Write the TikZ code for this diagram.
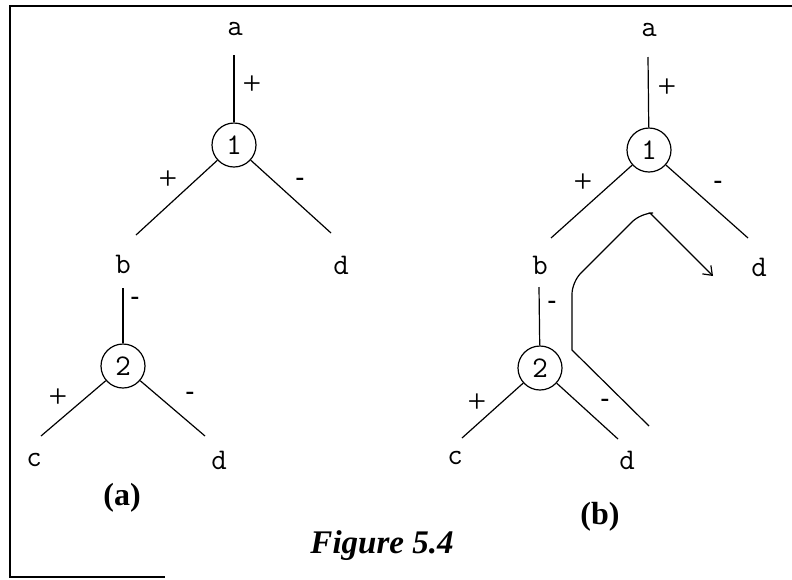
\documentclass[tikz,border=0pt]{standalone}
\usepackage{fontspec}
\setmainfont{Liberation Serif}
\usetikzlibrary{arrows.meta}

\tikzset{
    lbl/.style={inner sep=0pt, font=\ttfamily\fontsize{30}{30}\selectfont},
    pls/.style={inner sep=0pt, font=\fontsize{33}{33}\selectfont},
    mns/.style={inner sep=0pt, font=\bfseries\fontsize{26}{26}\selectfont},
    num/.style={circle, draw, line width=1.2pt, minimum size=44pt, inner sep=0pt,
                font=\ttfamily\fontsize{30}{30}\selectfont},
    br/.style={line width=1.2pt},
    trace/.style={line width=1.2pt, -{Straight Barb[length=8pt,width=12pt]}},
    capt/.style={inner sep=0pt, font=\bfseries\fontsize{32}{32}\selectfont},
}

\begin{document}
\begin{tikzpicture}[x=1pt, y=-1pt]
    \useasboundingbox (0,0) rectangle (792,579);

    % frame
    \draw[line width=2pt] (792,6) -- (10,6) -- (10,577) -- (165,577);

    % (a)
    \node[lbl] (a1) at (235,29) {a};
    \node[num] (n1) at (234,145) {1};
    \node[lbl] (b1) at (123,264) {b};
    \node[lbl] (d1) at (341,265) {d};
    \node[num] (n2) at (123,366) {2};
    \node[lbl] (c1) at (34,460) {c};
    \node[lbl] (d2) at (219,460) {d};

    \coordinate (a1top) at (234,55);
    \coordinate (b1end) at (136,235);
    \coordinate (d1end) at (331,233);
    \coordinate (b1top) at (123,288);
    \coordinate (c1end) at (41,436);
    \coordinate (d2end) at (205,436);

    \draw[br] (a1top) -- (n1);
    \draw[br] (n1) -- (b1end);
    \draw[br] (n1) -- (d1end);
    \draw[br] (b1top) -- (n2);
    \draw[br] (n2) -- (c1end);
    \draw[br] (n2) -- (d2end);

    \node[pls] at (252,85) {+};
    \node[pls] at (168,180) {+};
    \node[mns] at (300,182) {-};
    \node[mns] at (135,301) {-};
    \node[pls] at (58,398) {+};
    \node[mns] at (190,396) {-};

    \node[capt] (capa) at (122,498) {(a)};

    % (b)
    \node[lbl] (a2) at (649,30) {a};
    \node[num] (m1) at (649,150) {1};
    \node[lbl] (b2) at (540,265) {b};
    \node[lbl] (d3) at (759,267) {d};
    \node[num] (m2) at (540,368) {2};
    \node[lbl] (c2) at (455,458) {c};
    \node[lbl] (d4) at (627,460) {d};

    \coordinate (a2top) at (648,57);
    \coordinate (b2end) at (551,238);
    \coordinate (d3end) at (748,238);
    \coordinate (b2top) at (539,287);
    \coordinate (c2end) at (462,438);
    \coordinate (d4end) at (618,439);

    \draw[br] (a2top) -- (m1);
    \draw[br] (m1) -- (b2end);
    \draw[br] (m1) -- (d3end);
    \draw[br] (b2top) -- (m2);
    \draw[br] (m2) -- (c2end);
    \draw[br] (m2) -- (d4end);

    \node[pls] at (667,88) {+};
    \node[pls] at (583,183) {+};
    \node[mns] at (718,185) {-};
    \node[mns] at (552,305) {-};
    \node[pls] at (477,403) {+};
    \node[mns] at (605,403) {-};

    % path round the subtree
    \coordinate (t1) at (649,426);
    \coordinate (t2) at (572,350);
    \coordinate (t3) at (572,282);
    \coordinate (t4) at (641,213);
    \coordinate (t5) at (650,213);
    \coordinate (t6) at (713,276);
    \draw[trace] (t1) -- (t2) [rounded corners=12pt] -- (t3) -- (t4) [sharp corners] -- (t5) -- (t6);

    \node[capt] (capb) at (600,517) {(b)};

    \node[capt, font=\bfseries\itshape\fontsize{33}{33}\selectfont] (fig) at (382,546) {Figure 5.4};
\end{tikzpicture}
\end{document}
